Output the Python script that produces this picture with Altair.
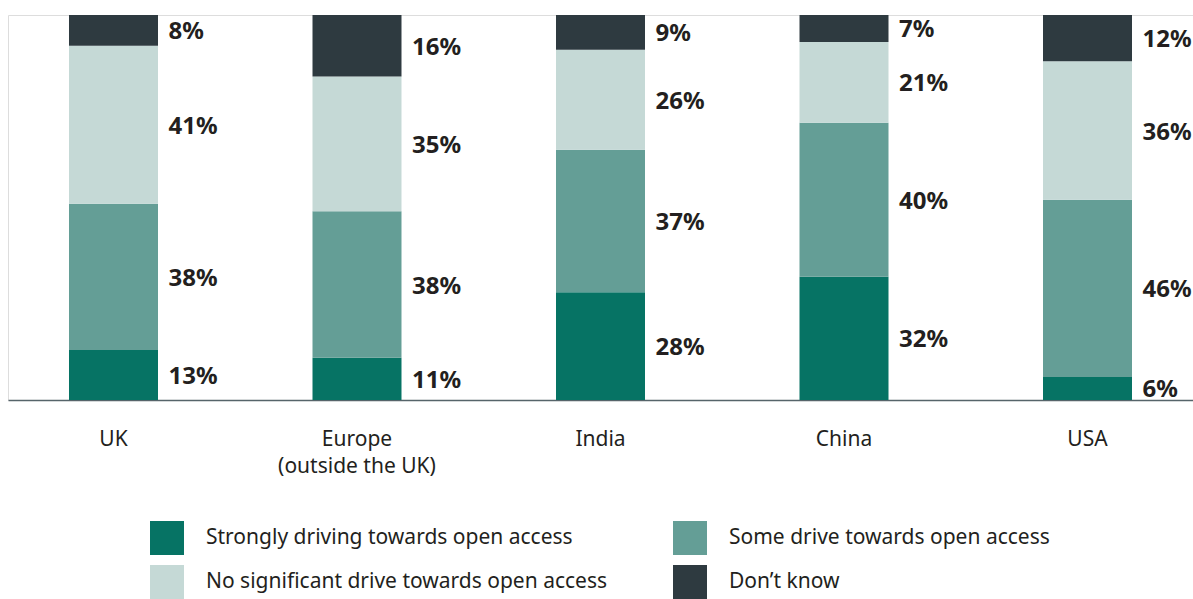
import altair as alt
import pandas as pd

countries = ["UK", "Europe\n(outside the UK)", "India", "China", "USA"]
categories = [
    "Strongly driving towards open access",
    "Some drive towards open access",
    "No significant drive towards open access",
    "Don\u2019t know",
]
colors = ["#067364", "#649e96", "#c5d9d6", "#2e3a40"]

strongly = [13, 11, 28, 32, 6]
some = [38, 38, 37, 40, 46]
no_sig = [41, 35, 26, 21, 36]
dont_know = [8, 16, 9, 7, 12]

series = [strongly, some, no_sig, dont_know]
rows = []
for ci, cat in enumerate(categories):
    for ki, c in enumerate(countries):
        rows.append({"country": c, "category": cat, "order": ci, "value": series[ci][ki]})
df = pd.DataFrame(rows)

FONT = "Noto Sans"
TXT = "#231f20"

x_enc = alt.X(
    "country:N",
    sort=countries,
    title=None,
    scale=alt.Scale(paddingInner=0.6345, paddingOuter=0.2505),
    axis=alt.Axis(
        labelExpr="split(datum.label, '\\n')",
        labelAngle=0,
        labelFont=FONT,
        labelFontSize=21,
        labelColor=TXT,
        labelPadding=28,
        labelLineHeight=27,
        ticks=False,
        domainColor="#56646a",
        domainWidth=1.5,
    ),
)

base = alt.Chart(df).transform_stack(
    stack="value",
    groupby=["country"],
    as_=["y0", "y1"],
    sort=[alt.SortField("order", order="ascending")],
).transform_calculate(mid="(datum.y0 + datum.y1) / 2", label="datum.value + '%'")

bars = base.mark_bar(size=89).encode(
    x=x_enc,
    y=alt.Y("y0:Q", scale=alt.Scale(domain=[0, 100], nice=False), axis=None),
    y2="y1:Q",
    color=alt.Color(
        "category:N",
        scale=alt.Scale(domain=categories, range=colors),
        legend=alt.Legend(
            title=None,
            orient="none",
            direction="horizontal",
            legendX=142,
            legendY=506,
            columns=2,
            columnPadding=65,
            rowPadding=10,
            symbolType="square",
            symbolSize=1156,
            symbolStrokeWidth=0,
            symbolOpacity=1,
            labelFont=FONT,
            labelFontSize=21,
            labelColor=TXT,
            labelOffset=22,
            labelLimit=0,
        ),
    ),
)

labels = base.mark_text(
    align="left", baseline="middle", dx=55, dy=2, font=FONT, fontSize=24, fontWeight="bold", color=TXT
).encode(
    x=alt.X("country:N", sort=countries),
    y=alt.Y("mid:Q"),
    text="label:N",
)

chart = (
    alt.layer(bars, labels)
    .properties(
        width=1185,
        height=385,
        autosize=alt.AutoSizeParams(type="none"),
        padding={"left": 8, "top": 15, "right": 0, "bottom": 199},
    )
    .configure_view(stroke=None)
    .configure(background="white")
)

chart.save("out.html", embed_options={"renderer": "svg", "actions": False})
